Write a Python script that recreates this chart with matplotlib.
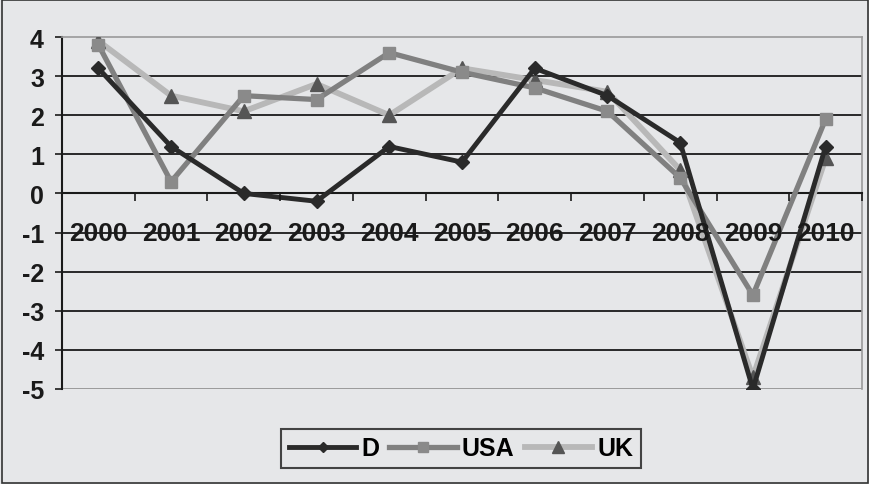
import matplotlib
matplotlib.use("Agg")
import matplotlib.pyplot as plt
import numpy as np

years = ["2000", "2001", "2002", "2003", "2004", "2005", "2006", "2007", "2008", "2009", "2010"]
d_vals = [3.2, 1.2, 0.0, -0.2, 1.2, 0.8, 3.2, 2.5, 1.3, -5.0, 1.2]
usa_vals = [3.8, 0.3, 2.5, 2.4, 3.6, 3.1, 2.7, 2.1, 0.4, -2.6, 1.9]
uk_vals = [3.9, 2.5, 2.1, 2.8, 2.0, 3.2, 2.9, 2.6, 0.6, -4.7, 0.9]
y_ticks = [4, 3, 2, 1, 0, -1, -2, -3, -4, -5]

plt.rcParams["font.family"] = ["Liberation Sans", "DejaVu Sans"]
plt.rcParams["font.weight"] = "bold"

bg = "#e6e7e9"
fig = plt.figure(figsize=(8.7, 4.85), dpi=100, facecolor=bg)
ax = fig.add_axes([62 / 870, 95 / 485, 800 / 870, 352 / 485])
ax.set_facecolor(bg)

# outer frame
fig.patches.append(plt.Rectangle((0.002, 0.003), 0.996, 0.994, transform=fig.transFigure,
                                 fill=False, edgecolor="#333333", linewidth=1.2))

x = np.arange(len(years))
ax.set_xlim(-0.5, len(years) - 0.5)
ax.set_ylim(-5, 4)

for yv in y_ticks[1:-1]:
    ax.axhline(yv, color="#1a1a1a", linewidth=1.3, zorder=1)

ax.plot(x, uk_vals, color="#b8b8b8", linewidth=4.2, marker="^", markersize=10,
        markerfacecolor="#555555", markeredgecolor="#555555", label="UK", zorder=3)
ax.plot(x, usa_vals, color="#808080", linewidth=3.8, marker="s", markersize=9,
        markerfacecolor="#8a8a8a", markeredgecolor="#8a8a8a", label="USA", zorder=4)
ax.plot(x, d_vals, color="#2a2a2a", linewidth=3.5, marker="D", markersize=7,
        markerfacecolor="#2a2a2a", markeredgecolor="#2a2a2a", label="D", zorder=5)

# frame of the plot area
for s in ["top", "right"]:
    ax.spines[s].set_color("#9a9a9a")
    ax.spines[s].set_linewidth(1.2)
ax.spines["left"].set_color("#1a1a1a")
ax.spines["left"].set_linewidth(1.5)
ax.spines["bottom"].set_position(("data", 0))
ax.spines["bottom"].set_color("#1a1a1a")
ax.spines["bottom"].set_linewidth(1.5)
ax.axhline(-5, color="#9a9a9a", linewidth=1.4, zorder=2)

ax.set_yticks(y_ticks)
ax.set_yticklabels([str(v) for v in y_ticks], fontsize=18, fontweight="bold", color="#1a1a1a")
ax.tick_params(axis="y", length=5, width=1.2, color="#1a1a1a", pad=8)

ax.set_xticks(x)
ax.set_xticklabels(years, fontsize=19, fontweight="bold", color="#1a1a1a")
ax.set_xticks(np.arange(-0.5, len(years) - 0.4, 1), minor=True)
ax.tick_params(axis="x", which="major", length=0, pad=20)
ax.tick_params(axis="x", which="minor", length=6, width=1.2, color="#1a1a1a", direction="out")
ax.xaxis.set_zorder(6)

handles, labels = ax.get_legend_handles_labels()
order = [2, 1, 0]
leg = fig.legend([handles[i] for i in order], [labels[i] for i in order],
                 loc="center", bbox_to_anchor=(461 / 870, 1 - 449.5 / 485), ncol=3,
                 frameon=True, fancybox=False, edgecolor="#1a1a1a", facecolor=bg,
                 prop={"size": 18, "weight": "bold"}, handlelength=2.7, handletextpad=0.2,
                 columnspacing=0.4, borderpad=0.3, borderaxespad=0)
leg.get_frame().set_linewidth(1.5)
for h in leg.legend_handles:
    h.set_markersize(h.get_markersize() * 0.8)

fig.savefig("out.png", dpi=100, facecolor=bg)
